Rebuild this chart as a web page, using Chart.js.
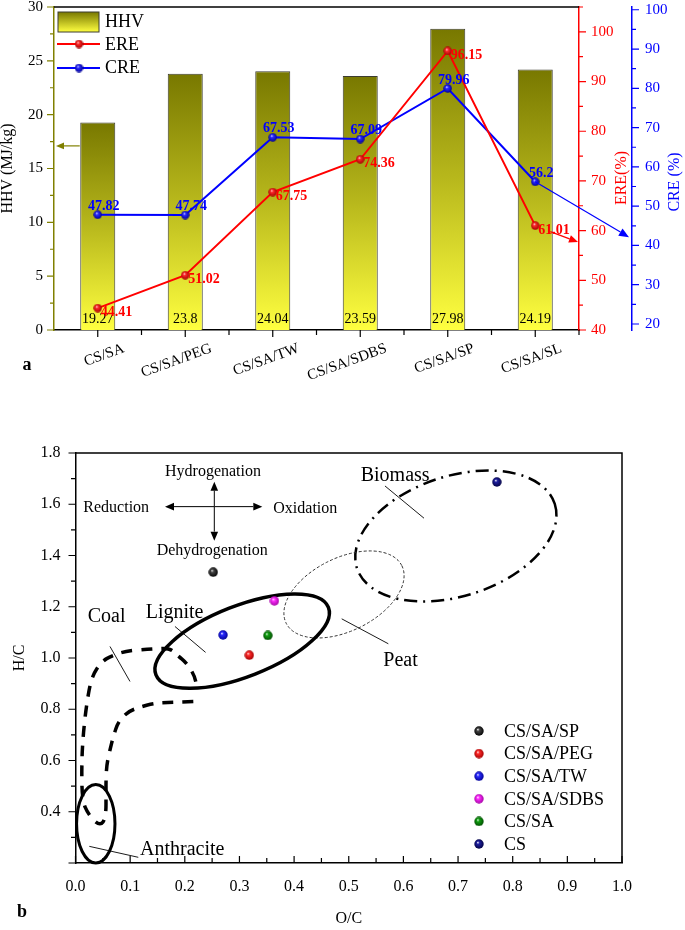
<!DOCTYPE html>
<html>
<head>
<meta charset="utf-8">
<script src="https://cdn.jsdelivr.net/npm/chart.js@4.4.1/dist/chart.umd.min.js"></script>
<style>
  html, body { margin: 0; padding: 0; background: #fff; }
  canvas { display: block; }
</style>
</head>
<body>
<canvas id="chartA" width="685" height="380"></canvas>
<canvas id="chartB" width="685" height="550"></canvas>
<script>
const SERIF = "'Liberation Serif', 'Times New Roman', serif";
Chart.defaults.font.family = SERIF;
Chart.defaults.color = '#000';

// ---- panel a
const categories = ["CS/SA", "CS/SA/PEG", "CS/SA/TW", "CS/SA/SDBS", "CS/SA/SP", "CS/SA/SL"];
const hhv = [19.27, 23.8, 24.04, 23.59, 27.98, 24.19];
const ere = [44.41, 51.02, 67.75, 74.36, 96.15, 61.01];
const cre = [47.82, 47.74, 67.53, 67.09, 79.96, 56.2];
const hhvTicks = [0, 5, 10, 15, 20, 25, 30];
const ereTicks = [40, 50, 60, 70, 80, 90, 100];
const creTicks = [20, 30, 40, 50, 60, 70, 80, 90, 100];

// ---- panel b
const samples = ["CS/SA/SP", "CS/SA/PEG", "CS/SA/TW", "CS/SA/SDBS", "CS/SA", "CS"];
const ocRatio = [0.252, 0.318, 0.270, 0.364, 0.352, 0.771];
const hcRatio = [1.335, 1.011, 1.090, 1.223, 1.088, 1.687];
const ocTicks = [0, 0.1, 0.2, 0.3, 0.4, 0.5, 0.6, 0.7, 0.8, 0.9, 1.0];
const hcTicks = [0.4, 0.6, 0.8, 1.0, 1.2, 1.4, 1.6, 1.8];

// glossy ball used as point style
function ball(color, shade, d) {
  const c = document.createElement('canvas');
  c.width = c.height = d;
  const g = c.getContext('2d');
  const r = d / 2;
  const grad = g.createRadialGradient(r * 0.75, r * 0.65, 0, r, r, r);
  grad.addColorStop(0, '#ffffff');
  grad.addColorStop(0.3, color);
  grad.addColorStop(1, shade);
  g.fillStyle = grad;
  g.beginPath();
  g.arc(r, r, r - 0.3, 0, Math.PI * 2);
  g.fill();
  return c;
}

function arrow(ctx, x1, y1, x2, y2, color, lw, head) {
  const ang = Math.atan2(y2 - y1, x2 - x1);
  const bx = x2 - head * Math.cos(ang), by = y2 - head * Math.sin(ang);
  const w = head * 0.42;
  ctx.strokeStyle = color; ctx.fillStyle = color; ctx.lineWidth = lw;
  ctx.beginPath(); ctx.moveTo(x1, y1); ctx.lineTo(bx, by); ctx.stroke();
  ctx.beginPath(); ctx.moveTo(x2, y2);
  ctx.lineTo(bx + w * Math.sin(ang), by - w * Math.cos(ang));
  ctx.lineTo(bx - w * Math.sin(ang), by + w * Math.cos(ang));
  ctx.closePath(); ctx.fill();
}

// tick marks along a vertical axis (dir -1 left, +1 right)
function yTickMarks(ctx, scale, x, dir, minor, every, majLen, minLen, color) {
  const n0 = Math.ceil(scale.min / minor - 1e-6), n1 = Math.floor(scale.max / minor + 1e-6);
  ctx.strokeStyle = color; ctx.lineWidth = 1.2;
  ctx.beginPath();
  for (let n = n0; n <= n1; n++) {
    const y = scale.getPixelForValue(n * minor);
    const len = n % every === 0 ? majLen : minLen;
    ctx.moveTo(x, y); ctx.lineTo(x + dir * len, y);
  }
  ctx.stroke();
}

function noPad(s) {
  s.paddingTop = 0; s.paddingBottom = 0; s.paddingLeft = 0; s.paddingRight = 0;
}

function barFill(c) {
  const chart = c.chart;
  if (!chart.chartArea || c.type !== 'data') return '#b8b81c';
  const ys = chart.scales.y;
  const top = ys.getPixelForValue(c.raw), base = ys.getPixelForValue(0);
  const g = chart.ctx.createLinearGradient(0, top, 0, base);
  g.addColorStop(0, '#787800');
  g.addColorStop(0.5, '#b8b81c');
  g.addColorStop(1, '#ffff40');
  return g;
}

const redBall = ball('#ff2a2a', '#a00000', 9);
const blueBall = ball('#2a2aff', '#000090', 9);

const decorA = {
  id: 'decorA',
  afterDatasetsDraw(chart) {
    const { ctx, chartArea: area, scales } = chart;
    const bars = chart.getDatasetMeta(2).data;
    const ereMeta = chart.getDatasetMeta(0).data;
    const creMeta = chart.getDatasetMeta(1).data;
    ctx.save();
    ctx.textBaseline = 'middle';
    // bar values
    ctx.font = '14px ' + SERIF; ctx.fillStyle = '#000'; ctx.textAlign = 'center';
    bars.forEach((b, i) => ctx.fillText(String(hhv[i]), b.x, area.bottom - 11));
    // ERE values
    ctx.font = 'bold 14px ' + SERIF; ctx.fillStyle = '#ff0000'; ctx.textAlign = 'left';
    ereMeta.forEach((p, i) => ctx.fillText(String(ere[i]), p.x + 3, p.y + 4.5));
    // CRE values
    ctx.fillStyle = '#0000ff'; ctx.textAlign = 'center';
    creMeta.forEach((p, i) => ctx.fillText(String(cre[i]), p.x + 6, p.y - 8.5));
    // pointer arrows
    arrow(ctx, bars[0].x - 18, scales.y.getPixelForValue(17.1), area.left + 2, scales.y.getPixelForValue(17.1), '#808000', 1.2, 8);
    const le = ereMeta[5];
    arrow(ctx, le.x + 15, le.y + 6, area.right - 1, scales.yE.getPixelForValue(57.7), '#ff0000', 1.2, 9);
    const lc = creMeta[5];
    arrow(ctx, lc.x, lc.y, scales.yC.left - 3, scales.yC.getPixelForValue(42.1), '#0000ff', 1.2, 10);
    ctx.restore();
  },
  afterDraw(chart) {
    const { ctx, chartArea: area, scales } = chart;
    ctx.save();
    // top frame
    ctx.strokeStyle = '#000'; ctx.lineWidth = 1.5;
    ctx.beginPath(); ctx.moveTo(area.left, area.top); ctx.lineTo(area.right, area.top); ctx.stroke();
    // tick marks
    yTickMarks(ctx, scales.y, area.left, -1, 2.5, 2, 7, 4, '#808000');
    yTickMarks(ctx, scales.yE, scales.yE.left, 1, 5, 2, 7, 4, '#ff0000');
    yTickMarks(ctx, scales.yC, scales.yC.left, 1, 5, 2, 7, 4, '#0000ff');
    const xs = scales.x;
    const half = (xs.getPixelForValue(1) - xs.getPixelForValue(0)) / 2;
    ctx.strokeStyle = '#000'; ctx.lineWidth = 1.2;
    ctx.beginPath();
    categories.forEach((c, i) => {
      const x = xs.getPixelForValue(i);
      ctx.moveTo(x, area.bottom); ctx.lineTo(x, area.bottom + 7);
      ctx.moveTo(x + half, area.bottom); ctx.lineTo(x + half, area.bottom + 5);
    });
    ctx.stroke();
    // category labels
    ctx.font = '15px ' + SERIF; ctx.fillStyle = '#000';
    ctx.textAlign = 'right'; ctx.textBaseline = 'middle';
    categories.forEach((c, i) => {
      ctx.save();
      ctx.translate(xs.getPixelForValue(i) + 26, area.bottom + 18);
      ctx.rotate(-20 * Math.PI / 180);
      ctx.fillText(c, 0, 0);
      ctx.restore();
    });
    // right axis titles (reading upwards)
    ctx.font = '16px ' + SERIF; ctx.textAlign = 'center';
    [[scales.yE, 'ERE(%)', '#ff0000', 178], [scales.yC, 'CRE (%)', '#0000ff', 182]].forEach(([s, t, col, y]) => {
      ctx.save();
      ctx.translate(s.right - 10, y);
      ctx.rotate(-Math.PI / 2);
      ctx.fillStyle = col;
      ctx.fillText(t, 0, 0);
      ctx.restore();
    });
    // legend
    const lx = area.left + 4;
    const g = ctx.createLinearGradient(0, 12, 0, 32);
    g.addColorStop(0, '#787800'); g.addColorStop(1, '#ffff40');
    ctx.fillStyle = g; ctx.fillRect(lx, 12, 41, 20);
    ctx.strokeStyle = '#3c3c30'; ctx.lineWidth = 1; ctx.strokeRect(lx, 12, 41, 20);
    ctx.lineWidth = 2;
    [['#ff0000', redBall, 44], ['#0000ff', blueBall, 68]].forEach(([col, img, y]) => {
      ctx.strokeStyle = col;
      ctx.beginPath(); ctx.moveTo(lx - 1, y); ctx.lineTo(lx + 42, y); ctx.stroke();
      ctx.drawImage(img, lx + 21 - img.width / 2, y - img.height / 2);
    });
    ctx.font = '18px ' + SERIF; ctx.fillStyle = '#000'; ctx.textAlign = 'left';
    ctx.fillText('HHV', lx + 47, 22);
    ctx.fillText('ERE', lx + 47, 45);
    ctx.fillText('CRE', lx + 47, 68);
    // panel letter
    ctx.font = 'bold 18px ' + SERIF; ctx.textAlign = 'center';
    ctx.fillText('a', 27, 365);
    ctx.restore();
  }
};

new Chart(document.getElementById('chartA'), {
  type: 'bar',
  data: {
    labels: categories,
    datasets: [
      { type: 'line', label: 'ERE', data: ere, yAxisID: 'yE', borderColor: '#ff0000', borderWidth: 2, pointStyle: redBall, order: 1 },
      { type: 'line', label: 'CRE', data: cre, yAxisID: 'yC', borderColor: '#0000ff', borderWidth: 2, pointStyle: blueBall, order: 2 },
      { type: 'bar', label: 'HHV', data: hhv, yAxisID: 'y', backgroundColor: barFill, borderColor: '#3c3c30', borderWidth: 1, barPercentage: 0.4, categoryPercentage: 1, order: 3 }
    ]
  },
  options: {
    responsive: false, animation: false, events: [], devicePixelRatio: 1,
    layout: { padding: { top: 7, left: 0, right: 0, bottom: 0 } },
    plugins: { legend: { display: false }, tooltip: { enabled: false } },
    scales: {
      x: {
        grid: { display: false, drawTicks: false }, ticks: { display: false },
        border: { color: '#000', width: 1.5 },
        afterFit: s => { s.height = 50; noPad(s); }
      },
      y: {
        position: 'left', min: 0, max: 30,
        afterBuildTicks: s => { s.ticks = hhvTicks.map(v => ({ value: v })); },
        ticks: { color: '#000', font: { size: 15 }, padding: 11 },
        grid: { display: false, drawTicks: false },
        border: { color: '#808000', width: 1.5 },
        title: { display: true, text: 'HHV (MJ/kg)', color: '#000', font: { size: 16, lineHeight: 1 }, padding: { top: 0, bottom: 0 } },
        afterFit: s => { s.width = 54; noPad(s); }
      },
      yE: {
        position: 'right', min: 40, max: 105, weight: 0,
        afterBuildTicks: s => { s.ticks = ereTicks.map(v => ({ value: v })); },
        ticks: { color: '#ff0000', font: { size: 15 }, padding: 12 },
        grid: { display: false, drawTicks: false },
        border: { color: '#ff0000', width: 1.5 },
        afterFit: s => { s.width = 53; noPad(s); }
      },
      yC: {
        position: 'right', min: 18.47, max: 100.7, weight: 1,
        afterBuildTicks: s => { s.ticks = creTicks.map(v => ({ value: v })); },
        ticks: { color: '#0000ff', font: { size: 15 }, padding: 13 },
        grid: { display: false, drawTicks: false },
        border: { color: '#0000ff', width: 1.5 },
        afterFit: s => { s.width = 53; noPad(s); }
      }
    }
  },
  plugins: [decorA]
});

// ---- panel b decorations (positions in O/C, H/C units; radii in px)
const sampleBalls = [
  ball('#444444', '#000000', 10),
  ball('#ff2a2a', '#a00000', 10),
  ball('#2a2aff', '#000090', 10),
  ball('#ff30ff', '#a000a0', 10),
  ball('#10a010', '#004800', 10),
  ball('#2020a0', '#000040', 10)
];
const regionShapes = [
  { x: 0.696, y: 1.476, a: 104, b: 60, rot: -18, lw: 2.5, dash: [13, 6, 2, 6], color: '#000' },
  { x: 0.4913, y: 1.248, a: 64.6, b: 36.5, rot: -26.4, lw: 1, dash: [3, 2], color: '#333' },
  { x: 0.305, y: 1.066, a: 92.6, b: 35.4, rot: -21.4, lw: 3.5, dash: [], color: '#000' },
  { x: 0.0371, y: 0.353, a: 19.2, b: 39.2, rot: 0, lw: 3, dash: [], color: '#000' }
];
const coalOutline = [
  [0.2156, 0.830], [0.1729, 0.8265], [0.1455, 0.8242], [0.118, 0.8086], [0.0966, 0.7914],
  [0.0783, 0.7524], [0.0692, 0.694], [0.0631, 0.642], [0.0571, 0.5836], [0.0558, 0.525],
  [0.0558, 0.4795], [0.0558, 0.377], [0.0448, 0.343], [0.0234, 0.3887], [0.0119, 0.447],
  [0.0113, 0.5965], [0.0143, 0.707], [0.0205, 0.824], [0.0296, 0.928], [0.048, 0.9864],
  [0.0662, 1.0086], [0.0937, 1.028], [0.1424, 1.036], [0.1729, 1.0386], [0.1852, 1.0125],
  [0.2035, 0.98], [0.2187, 0.928], [0.2218, 0.8827]
];
const leaders = [
  [0.182, 1.123, 0.238, 1.022],
  [0.0631, 1.045, 0.0997, 0.9084],
  [0.0253, 0.265, 0.1149, 0.2222],
  [0.5663, 1.6714, 0.6377, 1.5455],
  [0.4871, 1.1529, 0.5724, 1.0555]
];
const regionLabels = [
  { text: 'Coal', x: 0.0223, y: 1.1423, size: 20 },
  { text: 'Lignite', x: 0.1285, y: 1.158, size: 20 },
  { text: 'Anthracite', x: 0.118, y: 0.2328, size: 20 },
  { text: 'Biomass', x: 0.5219, y: 1.692, size: 20 },
  { text: 'Peat', x: 0.5632, y: 0.9669, size: 20 },
  { text: 'Hydrogenation', x: 0.1638, y: 1.7103, size: 16 },
  { text: 'Reduction', x: 0.0143, y: 1.57, size: 16 },
  { text: 'Oxidation', x: 0.3619, y: 1.565, size: 16 },
  { text: 'Dehydrogenation', x: 0.1486, y: 1.4023, size: 16 }
];

const decorB = {
  id: 'decorB',
  beforeDatasetsDraw(chart) {
    const { ctx, scales: { x, y } } = chart;
    const px = v => x.getPixelForValue(v), py = v => y.getPixelForValue(v);
    ctx.save();
    regionShapes.forEach(s => {
      ctx.strokeStyle = s.color; ctx.lineWidth = s.lw; ctx.setLineDash(s.dash);
      ctx.beginPath();
      ctx.ellipse(px(s.x), py(s.y), s.a, s.b, s.rot * Math.PI / 180, 0, Math.PI * 2);
      ctx.stroke();
    });
    // coal region, smoothed dashed outline
    ctx.setLineDash([11, 9]); ctx.lineWidth = 3.5; ctx.strokeStyle = '#000';
    const pts = coalOutline.map(p => [px(p[0]), py(p[1])]);
    ctx.beginPath();
    ctx.moveTo(pts[0][0], pts[0][1]);
    for (let i = 1; i < pts.length - 1; i++) {
      const mx = (pts[i][0] + pts[i + 1][0]) / 2, my = (pts[i][1] + pts[i + 1][1]) / 2;
      ctx.quadraticCurveTo(pts[i][0], pts[i][1], mx, my);
    }
    ctx.lineTo(pts[pts.length - 1][0], pts[pts.length - 1][1]);
    ctx.stroke();
    ctx.setLineDash([]);
    // leader lines
    ctx.lineWidth = 0.9;
    ctx.beginPath();
    leaders.forEach(l => { ctx.moveTo(px(l[0]), py(l[1])); ctx.lineTo(px(l[2]), py(l[3])); });
    ctx.stroke();
    // direction cross
    const cx = px(0.254), cy = py(1.5907);
    arrow(ctx, cx, cy, cx, py(1.688), '#000', 1, 9);
    arrow(ctx, cx, cy, cx, py(1.458), '#000', 1, 9);
    arrow(ctx, cx, cy, px(0.1638), cy, '#000', 1, 9);
    arrow(ctx, cx, cy, px(0.3418), cy, '#000', 1, 9);
    // texts
    ctx.fillStyle = '#000'; ctx.textAlign = 'left'; ctx.textBaseline = 'alphabetic';
    regionLabels.forEach(t => {
      ctx.font = t.size + 'px ' + SERIF;
      ctx.fillText(t.text, px(t.x), py(t.y));
    });
    ctx.restore();
  },
  afterDraw(chart) {
    const { ctx, chartArea: area, scales: { x, y } } = chart;
    ctx.save();
    ctx.strokeStyle = '#000'; ctx.lineWidth = 1.5;
    ctx.beginPath();
    ctx.moveTo(area.left, area.top); ctx.lineTo(area.right, area.top); ctx.lineTo(area.right, area.bottom);
    ctx.stroke();
    yTickMarks(ctx, y, area.left, -1, 0.1, 2, 7, 4.5, '#000');
    ctx.lineWidth = 1.2;
    ctx.beginPath();
    for (let n = 0; n <= 20; n++) {
      const xx = x.getPixelForValue(n * 0.05);
      ctx.moveTo(xx, area.bottom); ctx.lineTo(xx, area.bottom - (n % 2 === 0 ? 7 : 5));
    }
    ctx.stroke();
    // legend
    ctx.font = '18px ' + SERIF; ctx.textAlign = 'left'; ctx.textBaseline = 'middle'; ctx.fillStyle = '#000';
    samples.forEach((s, i) => {
      const yy = area.top + 278 + i * 22.6;
      const img = sampleBalls[i];
      ctx.drawImage(img, 479 - img.width / 2, yy - img.height / 2);
      ctx.fillText(s, 504, yy + 1);
    });
    ctx.font = 'bold 18px ' + SERIF; ctx.textAlign = 'center';
    ctx.fillText('b', 22, 532);
    ctx.restore();
  }
};

new Chart(document.getElementById('chartB'), {
  type: 'scatter',
  data: {
    datasets: samples.map((s, i) => ({
      label: s, data: [{ x: ocRatio[i], y: hcRatio[i] }], pointStyle: sampleBalls[i]
    }))
  },
  options: {
    responsive: false, animation: false, events: [], devicePixelRatio: 1,
    layout: { padding: { top: 73, right: 63, left: 0, bottom: 0 } },
    plugins: { legend: { display: false }, tooltip: { enabled: false } },
    scales: {
      x: {
        type: 'linear', min: 0, max: 1,
        afterBuildTicks: s => { s.ticks = ocTicks.map(v => ({ value: v })); },
        ticks: { callback: v => v.toFixed(1), color: '#000', font: { size: 16 }, padding: 14, maxRotation: 0, autoSkip: false },
        grid: { display: false, drawTicks: false },
        border: { color: '#000', width: 1.5 },
        title: { display: true, text: 'O/C', color: '#000', font: { size: 16, lineHeight: 1 }, padding: { top: 0, bottom: 3 } },
        afterFit: s => { s.height = 67; noPad(s); }
      },
      y: {
        type: 'linear', min: 0.2, max: 1.8,
        afterBuildTicks: s => { s.ticks = hcTicks.map(v => ({ value: v })); },
        ticks: { callback: v => v.toFixed(1), color: '#000', font: { size: 16 }, padding: 15, autoSkip: false },
        grid: { display: false, drawTicks: false },
        border: { color: '#000', width: 1.5 },
        title: { display: true, text: 'H/C', color: '#000', font: { size: 16, lineHeight: 1 }, padding: { top: 12, bottom: 0 } },
        afterFit: s => { s.width = 75.5; noPad(s); }
      }
    }
  },
  plugins: [decorB]
});
</script>
</body>
</html>
